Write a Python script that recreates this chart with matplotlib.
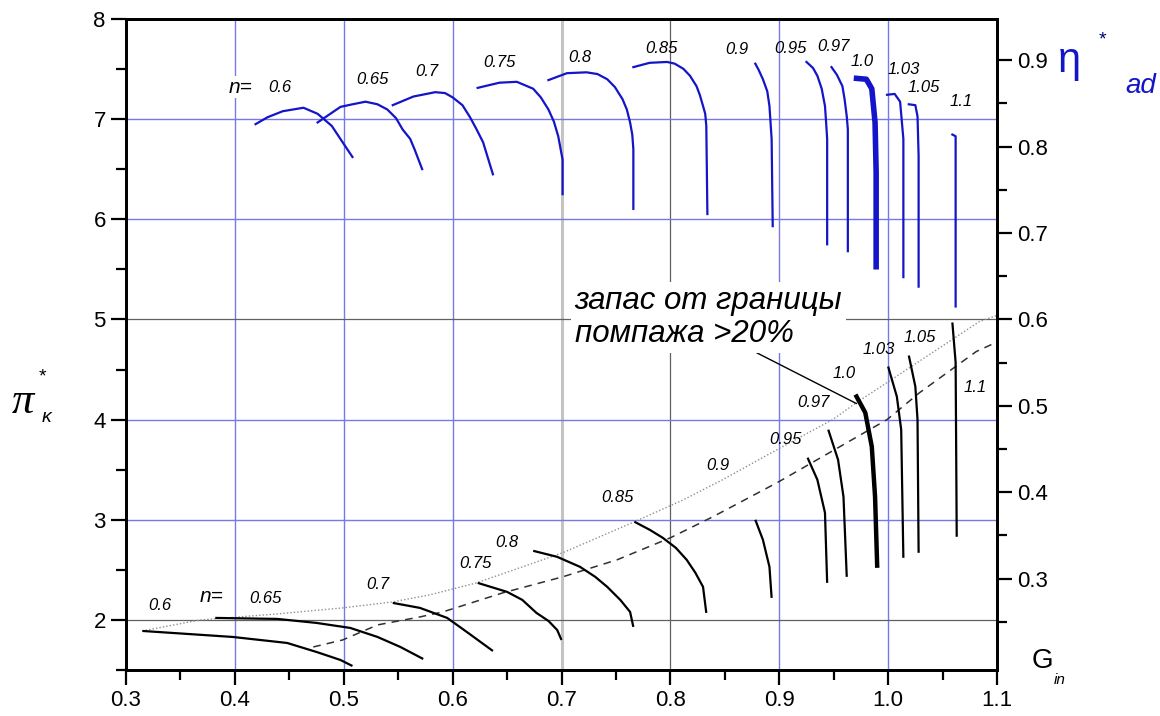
import matplotlib.pyplot as plt
from matplotlib.ticker import MultipleLocator, FixedLocator

plt.rcParams['font.family'] = ['Liberation Sans', 'DejaVu Sans']

# rotational speeds
n_vals = ['0.6', '0.65', '0.7', '0.75', '0.8', '0.85', '0.9', '0.95', '0.97', '1.0', '1.03', '1.05', '1.1']

# adiabatic efficiency lines  (G_in, eta*_ad)
eta_G = [
    [0.419, 0.430, 0.444, 0.463, 0.476, 0.489, 0.499, 0.508],
    [0.476, 0.497, 0.508, 0.520, 0.531, 0.540, 0.548, 0.554, 0.561, 0.565, 0.572],
    [0.545, 0.564, 0.584, 0.593, 0.600, 0.609, 0.616, 0.622, 0.628, 0.637],
    [0.623, 0.643, 0.659, 0.674, 0.681, 0.688, 0.693, 0.697, 0.701, 0.701],
    [0.688, 0.705, 0.723, 0.733, 0.742, 0.749, 0.756, 0.760, 0.763, 0.765, 0.766, 0.766],
    [0.766, 0.781, 0.797, 0.804, 0.812, 0.818, 0.824, 0.827, 0.830, 0.832, 0.833, 0.834],
    [0.878, 0.881, 0.885, 0.889, 0.891, 0.892, 0.893, 0.894],
    [0.925, 0.931, 0.935, 0.939, 0.942, 0.943, 0.944, 0.944],
    [0.948, 0.953, 0.958, 0.960, 0.962, 0.963, 0.963, 0.963],
    [0.971, 0.980, 0.985, 0.988, 0.989, 0.989],
    [0.999, 1.006, 1.011, 1.014, 1.014],
    [1.019, 1.025, 1.027, 1.028, 1.028],
    [1.059, 1.062, 1.062],
]
eta_v = [
    [0.826, 0.834, 0.841, 0.845, 0.838, 0.824, 0.805, 0.788],
    [0.828, 0.846, 0.849, 0.852, 0.849, 0.843, 0.833, 0.820, 0.809, 0.797, 0.774],
    [0.848, 0.858, 0.863, 0.862, 0.857, 0.848, 0.834, 0.820, 0.805, 0.768],
    [0.868, 0.874, 0.875, 0.867, 0.857, 0.843, 0.829, 0.812, 0.785, 0.745],
    [0.877, 0.885, 0.886, 0.884, 0.878, 0.869, 0.855, 0.843, 0.828, 0.814, 0.797, 0.728],
    [0.892, 0.897, 0.898, 0.896, 0.890, 0.882, 0.870, 0.860, 0.847, 0.838, 0.824, 0.722],
    [0.896, 0.889, 0.878, 0.864, 0.847, 0.828, 0.809, 0.708],
    [0.898, 0.891, 0.882, 0.867, 0.847, 0.829, 0.809, 0.687],
    [0.892, 0.883, 0.870, 0.855, 0.835, 0.820, 0.801, 0.679],
    [0.879, 0.878, 0.867, 0.828, 0.770, 0.661],
    [0.860, 0.861, 0.852, 0.809, 0.649],
    [0.849, 0.848, 0.835, 0.789, 0.638],
    [0.814, 0.812, 0.615],
]

# pressure ratio lines  (G_in, pi*_k)
pi_G = [
    [0.315, 0.398, 0.448, 0.475, 0.497, 0.508],
    [0.382, 0.439, 0.475, 0.506, 0.531, 0.552, 0.573],
    [0.545, 0.570, 0.595, 0.613, 0.637],
    [0.623, 0.650, 0.664, 0.677, 0.688, 0.696, 0.700],
    [0.674, 0.696, 0.717, 0.731, 0.742, 0.754, 0.763, 0.766],
    [0.767, 0.781, 0.793, 0.805, 0.815, 0.823, 0.830, 0.833],
    [0.878, 0.885, 0.891, 0.893],
    [0.926, 0.935, 0.942, 0.944],
    [0.945, 0.954, 0.959, 0.962],
    [0.970, 0.979, 0.985, 0.988, 0.990],
    [1.000, 1.008, 1.012, 1.014],
    [1.019, 1.025, 1.027, 1.028],
    [1.059, 1.062, 1.063],
]
pi_v = [
    [1.89, 1.83, 1.77, 1.68, 1.60, 1.54],
    [2.02, 2.01, 1.97, 1.92, 1.83, 1.73, 1.61],
    [2.17, 2.12, 2.02, 1.88, 1.69],
    [2.37, 2.28, 2.20, 2.07, 1.99, 1.90, 1.80],
    [2.69, 2.63, 2.53, 2.43, 2.33, 2.20, 2.08, 1.93],
    [2.98, 2.90, 2.82, 2.72, 2.60, 2.47, 2.33, 2.07],
    [3.00, 2.80, 2.53, 2.22],
    [3.62, 3.40, 3.07, 2.37],
    [3.90, 3.60, 3.23, 2.43],
    [4.25, 4.07, 3.73, 3.23, 2.52],
    [4.53, 4.23, 3.90, 2.62],
    [4.64, 4.33, 4.00, 2.67],
    [4.97, 4.57, 2.83],
]

# surge line and working line with margin
surge_G = [0.315, 0.368, 0.439, 0.499, 0.545, 0.579, 0.622, 0.701, 0.767, 0.812, 0.848, 0.898, 0.949, 0.971, 0.999, 1.084, 1.100]
surge_pi = [1.89, 2.00, 2.06, 2.12, 2.18, 2.25, 2.37, 2.67, 2.98, 3.20, 3.40, 3.70, 4.00, 4.17, 4.37, 4.98, 5.04]
work_G = [0.472, 0.499, 0.531, 0.570, 0.591, 0.646, 0.701, 0.751, 0.800, 0.839, 0.898, 0.999, 1.029, 1.081, 1.095]
work_pi = [1.73, 1.80, 1.95, 2.03, 2.08, 2.27, 2.43, 2.60, 2.82, 3.03, 3.37, 4.00, 4.27, 4.68, 4.75]

# label positions for each curve family (G, pi)
eta_lab_G = [0.441, 0.526, 0.576, 0.643, 0.717, 0.792, 0.861, 0.910, 0.950, 0.976, 1.014, 1.033, 1.067]
eta_lab_pi = [7.32, 7.40, 7.48, 7.57, 7.62, 7.71, 7.70, 7.71, 7.73, 7.58, 7.50, 7.32, 7.18]
pi_lab_G = [0.331, 0.428, 0.531, 0.621, 0.650, 0.751, 0.844, 0.906, 0.931, 0.960, 0.991, 1.029, 1.080]
pi_lab_pi = [2.14, 2.21, 2.35, 2.56, 2.77, 3.22, 3.54, 3.80, 4.17, 4.46, 4.70, 4.82, 4.32]

eta_ticks = [0.3, 0.4, 0.5, 0.6, 0.7, 0.8, 0.9]
eta_minor = [0.25, 0.35, 0.45, 0.55, 0.65, 0.75, 0.85]

blue = '#1414c8'
gblue = '#7878e6'

fig = plt.figure(figsize=(11.6, 7.16), dpi=100)
ax = fig.add_axes([126/1160, 1-670/716, 871/1160, 651/716])
ax.set_xlim(0.3, 1.1)
ax.set_ylim(1.5, 8.0)

# grid (two overlaid grids in the original)
for x in [0.4, 0.5, 0.6, 0.9, 1.0]:
    ax.axvline(x, color=gblue, lw=1.0, zorder=0)
ax.axvline(0.7, color='#c4c4c4', lw=2.2, zorder=0)
ax.axvline(0.8, color='#606060', lw=0.9, zorder=0)
for y in [3, 4, 6, 7]:
    ax.axhline(y, color=gblue, lw=1.0, zorder=0)
for y in [2, 5]:
    ax.axhline(y, color='#606060', lw=0.9, zorder=0)

ax.plot(surge_G, surge_pi, color='#909090', lw=1.0, ls=(0, (1, 1.5)), zorder=2)
ax.plot(work_G, work_pi, color='#303030', lw=1.1, ls=(0, (5, 4)), zorder=2)

for i, n in enumerate(n_vals):
    lw = 3.2 if n == '1.0' else 1.6
    ax.plot(pi_G[i], pi_v[i], color='black', lw=lw, solid_capstyle='butt', zorder=3)
    ax.text(pi_lab_G[i], pi_lab_pi[i], n, fontsize=12, style='italic', ha='center', va='center', zorder=4)
    ax.text(eta_lab_G[i], eta_lab_pi[i], n, fontsize=12, style='italic', ha='center', va='center', zorder=4)

ax.text(0.405, 7.32, 'n=', fontsize=15, style='italic', ha='center', va='center', zorder=4,
        bbox=dict(fc='white', ec='none', pad=1))
ax.text(0.379, 2.23, 'n=', fontsize=15, style='italic', ha='center', va='center', zorder=4,
        bbox=dict(fc='white', ec='none', pad=1))

ax.annotate('запас от границы\nпомпажа >20%', xy=(0.971, 4.16), xytext=(0.712, 5.02),
            fontsize=22.5, style='italic', ha='left', va='center', linespacing=1.1, zorder=5,
            bbox=dict(fc='white', ec='none', pad=3),
            arrowprops=dict(arrowstyle='-', color='black', lw=1.0, shrinkA=0, shrinkB=0,
                            relpos=(0.65, 0.0)))

ax.xaxis.set_major_locator(MultipleLocator(0.1))
ax.xaxis.set_minor_locator(MultipleLocator(0.05))
ax.yaxis.set_major_locator(MultipleLocator(1))
ax.yaxis.set_minor_locator(MultipleLocator(0.5))
ax.tick_params(which='both', direction='out', width=1.6, labelsize=16, top=False, right=False)
ax.tick_params(which='major', length=11)
ax.tick_params(which='minor', length=7)
ax.xaxis.set_major_formatter(plt.FuncFormatter(lambda v, p: f'{v:.1f}'))
ax.yaxis.set_major_formatter(plt.FuncFormatter(lambda v, p: f'{v:.0f}'))
for s in ax.spines.values():
    s.set_linewidth(2)

ax2 = ax.twinx()
ax2.set_ylim(0.6 - 3.5 * 0.1159, 0.6 + 3.0 * 0.1159)
for i, n in enumerate(n_vals):
    lw = 4.0 if n == '1.0' else 1.6
    ax2.plot(eta_G[i], eta_v[i], color=blue, lw=lw, zorder=3)
ax2.yaxis.set_major_locator(FixedLocator(eta_ticks))
ax2.yaxis.set_minor_locator(FixedLocator(eta_minor))
ax2.yaxis.set_major_formatter(plt.FuncFormatter(lambda v, p: f'{v:.1f}'))
ax2.tick_params(which='both', direction='out', width=1.6, labelsize=16)
ax2.tick_params(which='major', length=11)
ax2.tick_params(which='minor', length=7)
for s in ax2.spines.values():
    s.set_linewidth(2)

# axis titles
fig.text(23/1160, 1-402/716, 'π', fontsize=32, family='Liberation Serif', style='italic', ha='center', va='center')
fig.text(42/1160, 1-377/716, '*', fontsize=14, ha='center', va='center')
fig.text(47/1160, 1-418/716, 'κ', fontsize=14, style='italic', ha='center', va='center')

fig.text(1058/1160, 1-72/716, 'η', fontsize=30, color=blue, ha='left', va='baseline')
fig.text(1102/1160, 1-40/716, '*', fontsize=14, color='#000080', ha='center', va='center')
fig.text(1125/1160, 1-93/716, 'ad', fontsize=20, color=blue, style='italic', ha='left', va='baseline')

fig.text(1032/1160, 1-668/716, 'G', fontsize=20, ha='left', va='baseline')
fig.text(1054/1160, 1-684/716, 'in', fontsize=11, style='italic', ha='left', va='baseline')

fig.savefig('out.png', dpi=100)
